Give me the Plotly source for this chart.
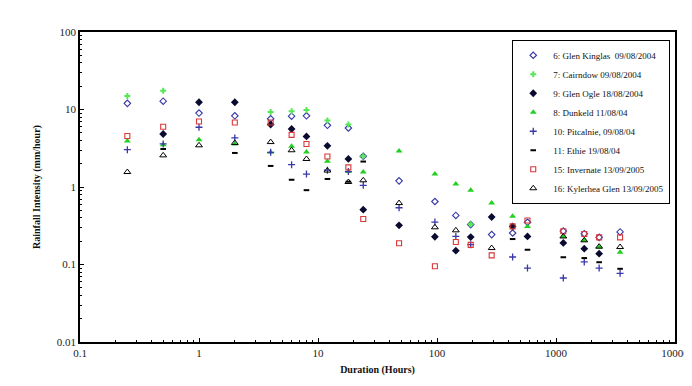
import plotly.graph_objects as go

durations = [0.25, 0.5, 1, 2, 4, 6, 8, 12, 18, 24, 48, 96, 144, 192, 288, 432, 576, 1152, 1728, 2304, 3456]
N = None

glen_kinglas = [12.0, 12.8, 9.0, 8.3, 7.6, 8.2, 8.3, 6.25, 5.77, 2.49, 1.2, 0.65, 0.43, 0.327, 0.243, 0.255, 0.35, 0.27, 0.25, 0.224, 0.263]
cairndow = [14.9, 17.5, N, N, 9.3, 9.5, 9.85, 7.2, 6.4, 2.5, N, N, N, 0.33, N, N, N, N, N, N, N]
glen_ogle = [N, 4.83, 12.4, 12.4, 6.4, 5.6, 4.5, 3.4, 2.3, 0.51, 0.32, 0.228, 0.151, 0.226, 0.41, 0.31, 0.23, 0.19, 0.16, 0.138, N]
dunkeld = [3.92, 3.5, 4.07, 3.59, 2.8, 3.35, 2.83, 2.15, 1.58, 1.56, 2.92, 1.47, 1.09, 0.906, 0.62, 0.42, 0.31, 0.23, 0.205, 0.167, 0.144]
pitcalnie = [3.03, 3.6, 5.9, 4.3, 2.8, 1.94, 1.47, 1.65, 1.58, 1.05, 0.54, 0.353, 0.23, 0.18, N, 0.125, 0.09, 0.067, 0.108, 0.09, 0.077]
ethie = [N, 3.09, N, 2.75, 1.87, 1.24, 0.91, 1.27, 1.17, 2.13, N, N, N, N, N, 0.213, 0.155, 0.124, 0.121, 0.107, 0.088]
invernate = [4.55, 6.0, 7.0, 6.8, 6.8, 4.7, 3.59, 2.48, 1.79, 0.386, 0.188, 0.095, 0.195, 0.179, 0.131, 0.31, 0.37, 0.268, 0.248, 0.224, 0.224]
kylerhea = [1.56, 2.56, 3.45, 3.7, 3.8, 2.98, 2.3, 1.63, 1.16, 1.22, 0.62, 0.302, 0.276, N, 0.163, N, N, 0.23, 0.205, 0.17, 0.168]

series_names = [
    "6: Glen Kinglas  09/08/2004",
    "7: Cairndow 09/08/2004",
    "9: Glen Ogle 18/08/2004",
    "8: Dunkeld 11/08/04",
    "10: Pitcalnie, 09/08/04",
    "11: Ethie 19/08/04",
    "15: Invernate 13/09/2005",
    "16: Kylerhea Glen 13/09/2005",
]
series_values = [glen_kinglas, cairndow, glen_ogle, dunkeld, pitcalnie, ethie, invernate, kylerhea]

x_tickvals = [0.1, 1, 10, 100, 1000, 10000]
x_ticktext = ["0.1", "1", "10", "100", "1000", "10000"]
y_tickvals = [0.01, 0.1, 1, 10, 100]
y_ticktext = ["0.01", "0.1", "1", "10", "100"]
minor_mults = [2, 3, 4, 5, 6, 7, 8, 9]

x_minor = [d * m for d in x_tickvals[:-1] for m in minor_mults]
y_minor = [d * m for d in y_tickvals[:-1] for m in minor_mults]

styles = [
    dict(symbol="diamond-open", color="#3838A8", size=5, line=dict(width=1.1, color="#3838A8")),
    dict(symbol="cross", color="#55E855", size=5, line=dict(width=0)),
    dict(symbol="diamond", color="#0A0A30", size=6, line=dict(width=0)),
    dict(symbol="triangle-up", color="#22D022", size=6, line=dict(width=0)),
    dict(symbol="cross-thin-open", color="#3838A8", size=5, line=dict(width=1.3, color="#3838A8")),
    dict(symbol="line-ew-open", color="black", size=4, line=dict(width=2, color="black")),
    dict(symbol="square-open", color="#D83838", size=5, line=dict(width=1.1, color="#D83838")),
    dict(symbol="triangle-up-open", color="black", size=6, line=dict(width=1, color="black")),
]

fig = go.Figure()
for name, vals, st in zip(series_names, series_values, styles):
    fig.add_trace(go.Scatter(x=durations, y=vals, mode="markers", name=name, marker=st))

serif = "Liberation Serif"
axis_common = dict(
    showline=True, linecolor="black", linewidth=1.5, mirror=True,
    ticks="inside", ticklen=4, tickcolor="black", showgrid=False, zeroline=False,
    tickfont=dict(family=serif, size=11, color="#222"),
)
fig.update_xaxes(type="log", range=[-1, 4], tickmode="array", tickvals=x_tickvals, ticktext=x_ticktext,
                 minor=dict(tickmode="array", tickvals=x_minor, ticks="inside", ticklen=2, tickcolor="black", showgrid=False),
                 title=dict(text="<b>Duration (Hours)</b>", font=dict(family=serif, size=10, color="#111"), standoff=8),
                 **axis_common)
fig.update_yaxes(type="log", range=[-2, 2], tickmode="array", tickvals=y_tickvals, ticktext=y_ticktext,
                 minor=dict(tickmode="array", tickvals=y_minor, ticks="inside", ticklen=2, tickcolor="black", showgrid=False),
                 title=dict(text="<b>Rainfall Intensity (mm/hour)</b>", font=dict(family=serif, size=10, color="#111"), standoff=14),
                 **axis_common)

fig.update_layout(
    width=692, height=386,
    margin=dict(l=72, r=25, t=24, b=52),
    paper_bgcolor="white", plot_bgcolor="white",
    legend=dict(x=0.992, y=0.975, xanchor="right", yanchor="top",
                bordercolor="black", borderwidth=1, bgcolor="white",
                font=dict(family=serif, size=9, color="#111"),
                itemwidth=30, tracegroupgap=0),
)

fig.write_html("out.html")
